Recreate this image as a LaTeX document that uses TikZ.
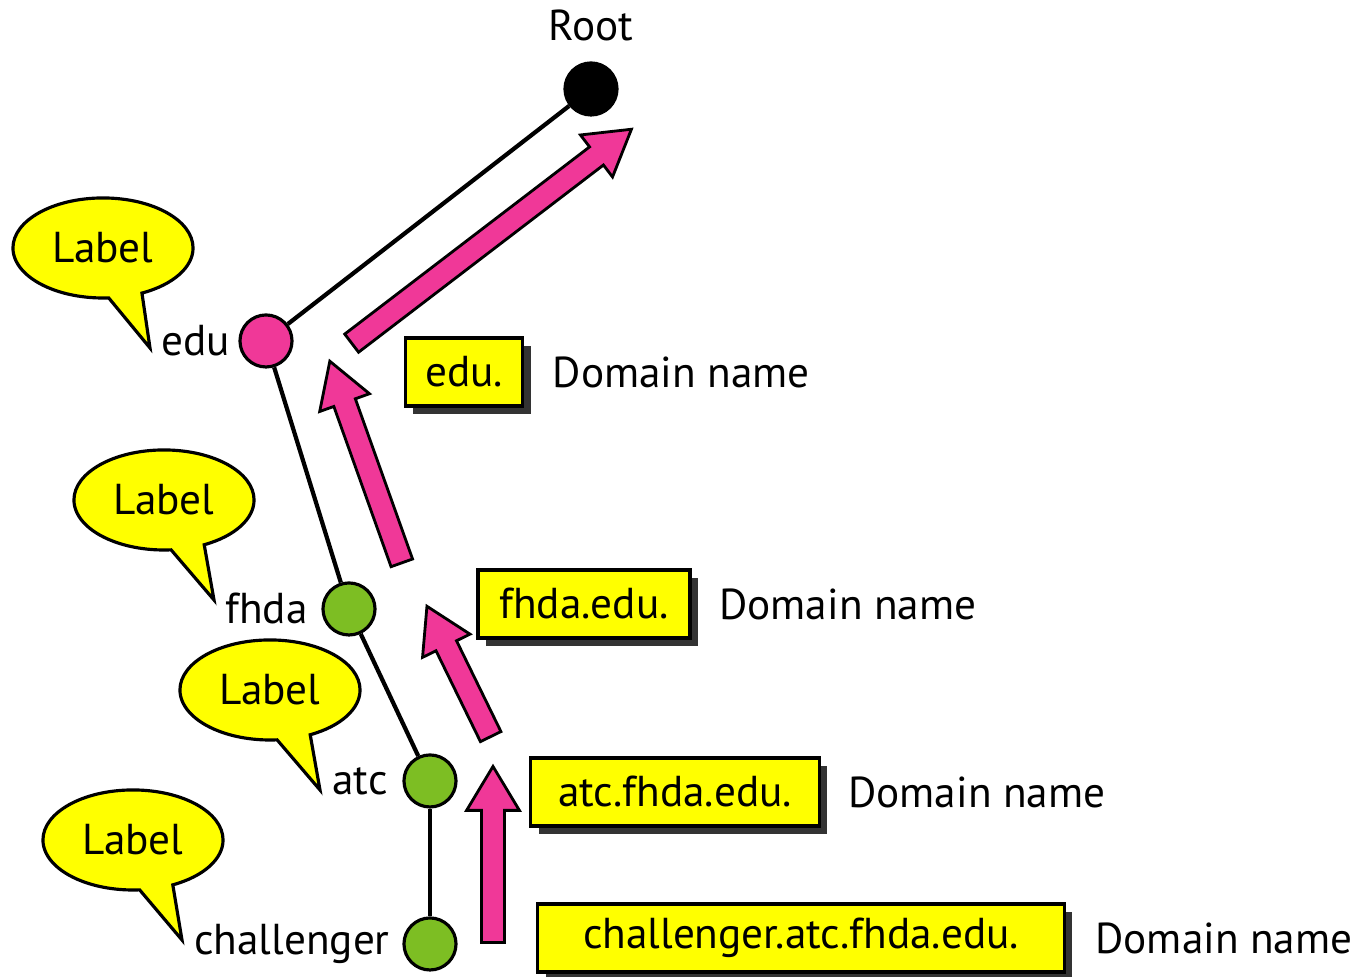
\documentclass[tikz,border=0pt]{standalone}
\usepackage{fontspec}
\setmainfont{PT Sans}
\usepackage{xcolor}
\usetikzlibrary{positioning}
\usetikzlibrary{shapes.callouts, shapes.arrows, shadows}

\definecolor{nodepink}{RGB}{240,56,152}
\definecolor{nodegreen}{RGB}{125,190,35}
\definecolor{boxyellow}{RGB}{255,255,0}

\begin{document}
\begin{tikzpicture}[x=0.01cm, y=0.01cm, every node/.style={font=\fontsize{12.3}{15}\selectfont},
	dot/.style={circle, draw, line width=0.9pt, minimum size=0.52cm, inner sep=0},
	tag/.style={inner sep=0},
	bubble/.style={ellipse callout, draw, line width=0.9pt, fill=boxyellow, minimum width=1.8cm, minimum height=1cm, callout pointer arc=22},
	namebox/.style={rectangle, draw, line width=0.9pt, fill=boxyellow, minimum height=0.68cm, drop shadow={shadow xshift=0.08cm, shadow yshift=-0.08cm, fill=black!80, opacity=1}},
	bigarrow/.style={single arrow, draw, line width=0.8pt, fill=nodepink, inner sep=0.1cm, single arrow head extend=0.15cm, single arrow tip angle=62}]
		\useasboundingbox (0,0) rectangle (1359,977);
		
		\node[dot, fill=black] at (591,888) (root) {};
		\node[dot, fill=nodepink] at (266,636) (edu) {};
		\node[dot, fill=nodegreen] at (349,368) (fhda) {};
		\node[dot, fill=nodegreen] at (430,196) (atc) {};
		\node[dot, fill=nodegreen] at (430,33) (challenger) {};
		
		\node[tag, above=0.2cm of root] (rootname) {Root};
		\node[tag, left=0.08cm of edu] (eduname) {edu};
		\node[tag, left=0.13cm of fhda] (fhdaname) {fhda};
		\node[tag, left=0.14cm of atc] (atcname) {atc};
		\node[tag, left=0.12cm of challenger] (challengername) {challenger};
		
		\path[line width=1.2pt] (root) edge (edu);
		\path[line width=1.2pt] (edu) edge (fhda);
		\path[line width=1.2pt] (fhda) edge (atc);
		\path[line width=1.2pt] (atc) edge (challenger);
		
		% callouts
		\node[bubble, callout absolute pointer={(150,629)}] at (103,729) (edulabel) {Label};
		\node[bubble, callout absolute pointer={(214,377)}] at (164,477) (fhdalabel) {Label};
		\node[bubble, callout absolute pointer={(320,187)}] at (270,287) (atclabel) {Label};
		\node[bubble, callout absolute pointer={(182,37)}] at (133,137) (challengerlabel) {Label};
		
		% domain names
		\node[namebox, minimum width=1.17cm] at (464,605) (edubox) {edu.};
		\node[namebox, minimum width=2.12cm] at (584,373) (fhdabox) {fhda.edu.};
		\node[namebox, minimum width=2.88cm] at (675,185) (atcbox) {atc.fhda.edu.};
		\node[namebox, minimum width=5.26cm] at (801,39) (challengerbox) {challenger.atc.fhda.edu.};
		
		\node[tag, right=0.28cm of edubox] (edudomain) {Domain name};
		\node[tag, right=0.27cm of fhdabox] (fhdadomain) {Domain name};
		\node[tag, right=0.27cm of atcbox] (atcdomain) {Domain name};
		\node[tag, right=0.29cm of challengerbox] (challengerdomain) {Domain name};
		
		% arrows
		\node[bigarrow, minimum height=3.52cm, rotate=37.4] at (484,735) (arrowroot) {};
		\node[bigarrow, minimum height=2.14cm, rotate=109.65] at (369,506) (arrowedu) {};
		\node[bigarrow, minimum height=1.45cm, rotate=116.06] at (463,297) (arrowfhda) {};
		\node[bigarrow, minimum height=1.76cm, rotate=90] at (493,113) (arrowatc) {};
	\end{tikzpicture}
\end{document}
